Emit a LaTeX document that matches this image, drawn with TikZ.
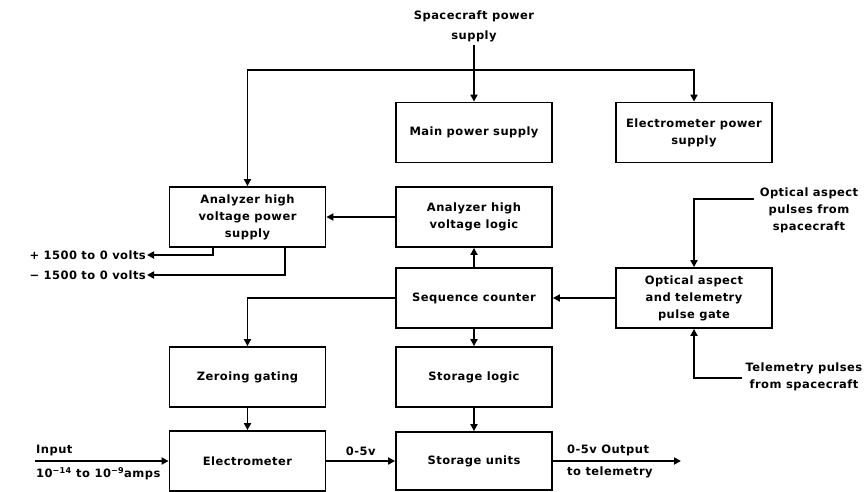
\documentclass[tikz,border=0pt]{standalone}
\usepackage{fontspec}
\setmainfont{DejaVu Sans}[LetterSpace=4]
\usetikzlibrary{positioning,arrows.meta}

\begin{document}
\begin{tikzpicture}[x=1pt,y=-1pt,font=\bfseries\fontsize{11.5}{17}\selectfont,
                blk/.style={rectangle,draw,line width=1.8pt,minimum width=156pt,
                            minimum height=60pt,align=center,inner sep=2pt},
                lbl/.style={align=center,inner sep=1pt},
                arr/.style={-{Triangle[length=7pt,width=7pt]},line width=1.8pt}]
                \useasboundingbox (0,0) rectangle (868,491);
                % boxes
                \node[blk] (hvps)    at (247.5,217) {Analyzer high\\voltage power\\supply};
                \node[blk] (mps)     at (474,132.5) {Main power supply};
                \node[blk] (eps)     at (694,132.5) {Electrometer power\\supply};
                \node[blk] (hvlogic) at (474,217)   {Analyzer high\\voltage logic};
                \node[blk] (seq)     at (474,298)   {Sequence counter};
                \node[blk] (optgate) at (694,298)   {Optical aspect\\and telemetry\\pulse gate};
                \node[blk] (zero)    at (247.5,377) {Zeroing gating};
                \node[blk] (stlogic) at (474,377)   {Storage logic};
                \node[blk] (elec)    at (247.5,461) {Electrometer};
                \node[blk,minimum height=58pt]
                           (stunits) at (474,461)   {Storage units};
                % outside labels
                \node[lbl,font=\bfseries\fontsize{11.5}{20}\selectfont]
                           (sptxt)   at (474,26)    {Spacecraft power\\supply};
                \node[lbl] (oatxt)   at (809,210)   {Optical aspect\\pulses from\\spacecraft};
                \node[lbl] (tmtxt)   at (804,377)   {Telemetry pulses\\from spacecraft};
                \coordinate (sp)  at (474,45);
                \coordinate (bus) at (474,70);
                \coordinate (oa)  at (754,199);
                \coordinate (tm)  at (742,378);
                \coordinate (p1)  at (147,255);
                \coordinate (p2)  at (147,275);
                \coordinate (inp) at (35,461);
                \coordinate (out) at (681,461);
                \node[lbl,anchor=east] (p1txt) at (p1) {+ 1500 to 0 volts};
                \node[lbl,anchor=east] (p2txt) at (p2) {− 1500 to 0 volts};
                \node[lbl,anchor=south west] (intxt)  at (35,457) {Input};
                \node[lbl,anchor=north west] (amptxt) at (35,466)
                           {10\textsuperscript{−14} to 10\textsuperscript{−9}amps};
                \node[lbl,anchor=south west] (outtxt) at (566,457) {0-5v Output};
                \node[lbl,anchor=north west] (teltxt) at (566,466) {to telemetry};
                % connectors
                \draw[arr] (sp) -- (mps.north);
                \draw[arr] (bus) -| (hvps.north);
                \draw[arr] (bus) -| (eps.north);
                \draw[arr] (hvlogic) -- (hvps);
                \draw[arr] (seq) -- (hvlogic);
                \draw[arr] (optgate) -- (seq);
                \draw[arr] (seq) -- (stlogic);
                \draw[arr] (stlogic) -- (stunits);
                \draw[arr] (seq.west) -| (zero.north);
                \draw[arr] (zero) -- (elec);
                \draw[arr] (elec) -- node[lbl,above=3pt]{0-5v} (stunits);
                \draw[arr] (stunits.east) -- (out);
                \draw[arr] (inp) -- (elec.west);
                \draw[arr] ([xshift=-34.5pt]hvps.south) |- (p1);
                \draw[arr] ([xshift=37.5pt]hvps.south) |- (p2);
                \draw[arr] (oa) -| (optgate.north);
                \draw[arr] (tm) -| (optgate.south);
            \end{tikzpicture}
\end{document}
